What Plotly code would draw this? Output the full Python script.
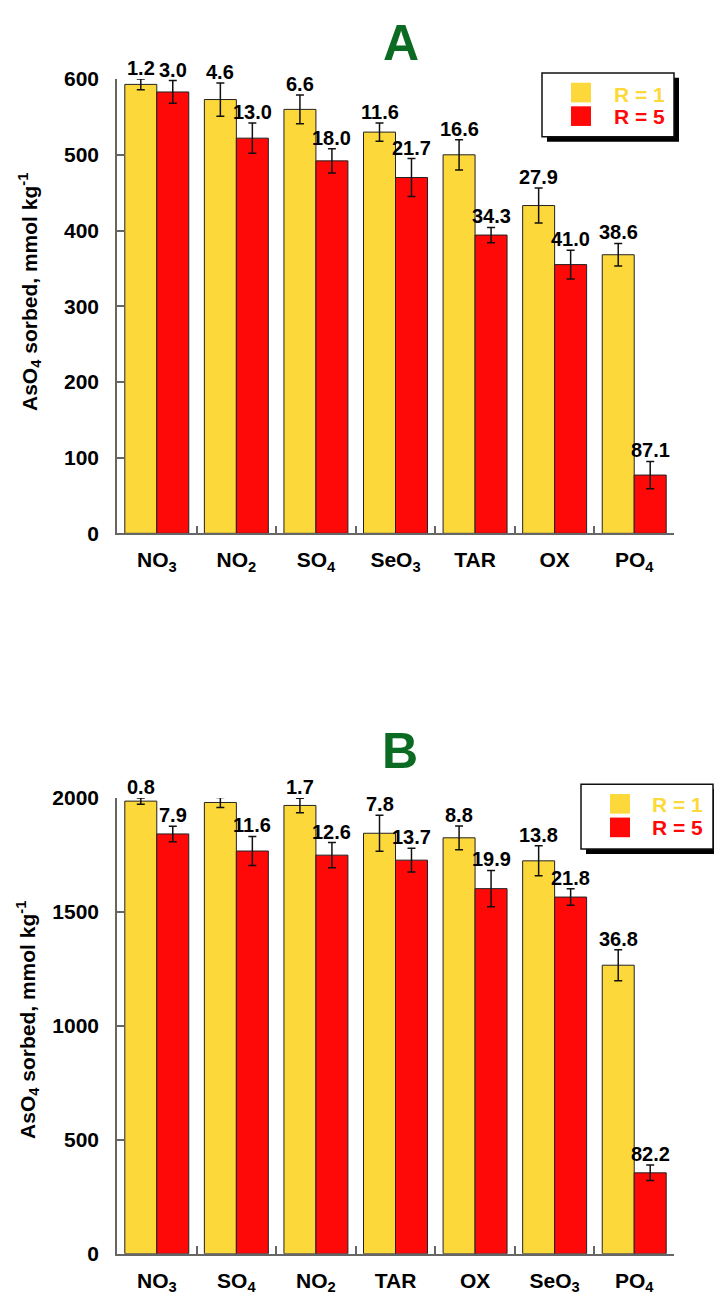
import plotly.graph_objects as go

# ---- Panel A data ----
cats_a = ["NO<sub>3</sub>", "NO<sub>2</sub>", "SO<sub>4</sub>", "SeO<sub>3</sub>", "TAR", "OX", "PO<sub>4</sub>"]
r1_a = [593, 573, 560, 530, 500, 433, 368]
r1_err_a = [7, 22, 19, 12, 20, 23, 15]
r5_a = [583, 522, 492, 470, 394, 355, 77]
r5_err_a = [15, 20, 16, 25, 10, 19, 18]
r1_lbl_a = ["1.2", "4.6", "6.6", "11.6", "16.6", "27.9", "38.6"]
r5_lbl_a = ["3.0", "13.0", "18.0", "21.7", "34.3", "41.0", "87.1"]

# ---- Panel B data ----
cats_b = ["NO<sub>3</sub>", "SO<sub>4</sub>", "NO<sub>2</sub>", "TAR", "OX", "SeO<sub>3</sub>", "PO<sub>4</sub>"]
r1_b = [1986, 1980, 1967, 1845, 1825, 1724, 1266]
r1_err_b = [14, 22, 32, 79, 52, 66, 68]
r5_b = [1842, 1767, 1749, 1727, 1602, 1565, 355]
r5_err_b = [34, 64, 55, 52, 80, 36, 34]
r1_lbl_b = ["0.8", "1.1", "1.7", "7.8", "8.8", "13.8", "36.8"]
r5_lbl_b = ["7.9", "11.6", "12.6", "13.7", "19.9", "21.8", "82.2"]

series_names = ["R = 1", "R = 5"]

W, H = 714, 1307
YELLOW = "#FDD83B"
RED = "#FF0808"
GREEN = "#0B6B22"
AXIS = "#666666"
FONT = "Liberation Sans, Arial, sans-serif"


def px(x):
    return x / W


def py(y):
    return 1 - y / H


fig = go.Figure()


def add_panel(cats, r1, e1, r5, e5, xa, ya):
    for vals, errs, color, name in ((r1, e1, YELLOW, series_names[0]),
                                    (r5, e5, RED, series_names[1])):
        fig.add_trace(go.Bar(
            x=cats, y=vals, name=name, xaxis=xa, yaxis=ya,
            marker=dict(color=color, line=dict(color="#222222", width=1)),
            error_y=dict(type="data", array=errs, visible=True,
                         color="#111111", thickness=1.5, width=4),
            showlegend=False,
        ))


add_panel(cats_a, r1_a, r1_err_a, r5_a, r5_err_a, "x", "y")
add_panel(cats_b, r1_b, r1_err_b, r5_b, r5_err_b, "x2", "y2")

annotations = []


def add_labels(cats, vals, errs, labels, shift, xref, yref):
    for c, v, e, t in zip(cats, vals, errs, labels):
        annotations.append(dict(
            x=c, y=v + e, xref=xref, yref=yref, text=t, showarrow=False,
            xshift=shift, yanchor="bottom", yshift=-2,
            font=dict(family=FONT, size=20, color="black", weight="bold"),
        ))


add_labels(cats_a, r1_a, r1_err_a, r1_lbl_a, -16, "x", "y")
add_labels(cats_a, r5_a, r5_err_a, r5_lbl_a, 16, "x", "y")
add_labels(cats_b, r1_b, r1_err_b, r1_lbl_b, -16, "x2", "y2")
add_labels(cats_b, r5_b, r5_err_b, r5_lbl_b, 16, "x2", "y2")

# Panel titles
for letter, cx, cy in (("A", 401, 32), ("B", 400, 752)):
    annotations.append(dict(
        x=px(cx), y=py(cy), xref="paper", yref="paper", text=letter,
        showarrow=False, xanchor="center", yanchor="middle",
        font=dict(family=FONT, size=50, color=GREEN, weight="bold"),
    ))

# Y axis titles
ytitle = "AsO<sub>4</sub> sorbed, mmol kg<sup>-1</sup>"
for cx, cy in ((30, 285), (28, 1026)):
    annotations.append(dict(
        x=px(cx), y=py(cy), xref="paper", yref="paper", text=ytitle,
        showarrow=False, textangle=-90, xanchor="center", yanchor="middle",
        font=dict(family=FONT, size=21, color="black", weight="bold"),
    ))

shapes = []


def add_legend(x0, y0, x1, y1, sq_x, sq_ys, tx, ty):
    # drop shadow, then framed white box
    shapes.append(dict(type="rect", xref="paper", yref="paper",
                       x0=px(x0 + 5), x1=px(x1 + 5), y0=py(y0 + 5), y1=py(y1 + 5),
                       fillcolor="black", line=dict(width=0)))
    shapes.append(dict(type="rect", xref="paper", yref="paper",
                       x0=px(x0), x1=px(x1), y0=py(y0), y1=py(y1),
                       fillcolor="white", line=dict(color="#111111", width=1.5)))
    for (ya0, ya1), color, name, tyy in zip(sq_ys, (YELLOW, RED), series_names, ty):
        shapes.append(dict(type="rect", xref="paper", yref="paper",
                           x0=px(sq_x), x1=px(sq_x + 20), y0=py(ya0), y1=py(ya1),
                           fillcolor=color, line=dict(width=0)))
        annotations.append(dict(
            x=px(tx), y=py(tyy), xref="paper", yref="paper", text=name,
            showarrow=False, xanchor="left", yanchor="middle",
            font=dict(family=FONT, size=21, color=color, weight="bold"),
            borderpad=0,
        ))


add_legend(542, 62, 674, 127, 571, ((72, 92), (96, 116)), 613, (83.5, 106.5))
add_legend(581, 786, 713, 852, 610, ((796, 816), (820, 840)), 651, (807, 830.5))

axis_common = dict(
    showline=True, linecolor=AXIS, linewidth=1.5, mirror=False,
    showgrid=False, zeroline=False, ticks="inside", tickcolor=AXIS,
    tickwidth=1.5, ticklen=8,
    tickfont=dict(family=FONT, size=21, color="black", weight="bold"),
)

xdom = [px(117), px(674)]
fig.update_layout(
    width=W, height=H, margin=dict(l=0, r=0, t=0, b=0),
    paper_bgcolor="white", plot_bgcolor="white",
    barmode="group", bargap=0.196, bargroupgap=0,
    xaxis=dict(domain=xdom, anchor="y", tickson="boundaries",
               ticklabelstandoff=7, **axis_common),
    yaxis=dict(domain=[py(530.7), py(68.3)], anchor="x", range=[0, 600],
               dtick=100, ticklabelstandoff=12, **axis_common),
    xaxis2=dict(domain=xdom, anchor="y2", tickson="boundaries",
                ticklabelstandoff=7, **axis_common),
    yaxis2=dict(domain=[py(1264), py(800)], anchor="x2", range=[0, 2000],
                dtick=500, ticklabelstandoff=12, **axis_common),
    annotations=annotations,
    shapes=shapes,
    showlegend=False,
)

fig.write_html("out.html")
